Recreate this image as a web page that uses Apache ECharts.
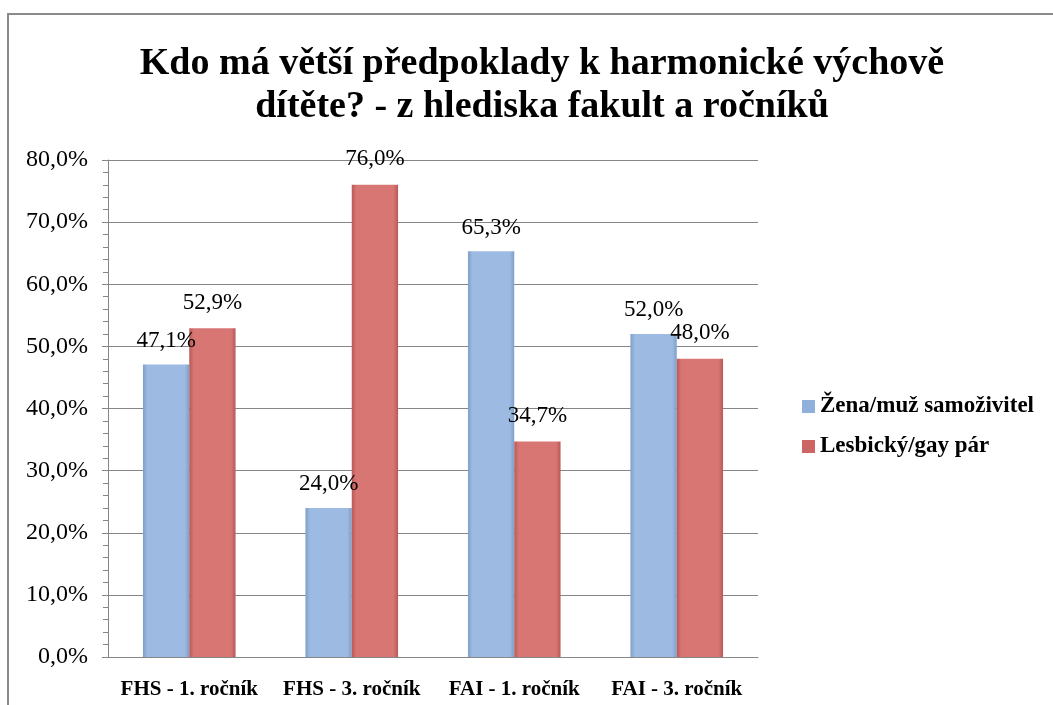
<!DOCTYPE html>
<html>
<head>
<meta charset="utf-8">
<script src="https://cdn.jsdelivr.net/npm/echarts@6/dist/echarts.min.js"></script>
<style>
html,body{margin:0;padding:0;background:#fff;}
#chart{width:1053px;height:705px;}
#frame{position:absolute;left:7px;top:13px;width:1100px;height:800px;border-left:2px solid #8a8a8a;border-top:2px solid #8a8a8a;pointer-events:none;}
</style>
</head>
<body>
<div id="chart"></div>
<div id="frame"></div>
<script>
// kategorie a hodnoty (%)
var categories = ['FHS - 1. ročník','FHS - 3. ročník','FAI - 1. ročník','FAI - 3. ročník'];
var seriesNames = ['Žena/muž samoživitel','Lesbický/gay pár'];
var zenaMuz = [47.1, 24.0, 65.3, 52.0];
var lesbGay = [52.9, 76.0, 34.7, 48.0];

var font = '"Liberation Serif","Times New Roman",serif';

function grad(edge, mid){
    return new echarts.graphic.LinearGradient(0,0,1,0,[
        {offset:0,color:edge},{offset:0.1,color:mid},{offset:0.9,color:mid},{offset:1,color:edge}
    ]);
}
function fmt(p){
    return p.value.toFixed(1).replace('.',',') + '%';
}

var chart = echarts.init(document.getElementById('chart'));
var option = {
    backgroundColor:'#fff',
    animation:false,
    title:{
        text:'Kdo má větší předpoklady k harmonické výchově\ndítěte? - z hlediska fakult a ročníků',
        left:537,
        textAlign:'center',
        top:38,
        textStyle:{fontFamily:font,fontSize:38,fontWeight:'bold',color:'#000',lineHeight:43}
    },
    legend:{
        orient:'vertical',
        left:797,
        top:390,
        itemWidth:13,
        itemHeight:13,
        itemGap:17,
        icon:'rect',
        textStyle:{fontFamily:font,fontSize:23,fontWeight:'bold',color:'#000'},
        data:[
            {name:seriesNames[0],itemStyle:{color:'#8fb0db'}},
            {name:seriesNames[1],itemStyle:{color:'#cc6664'}}
        ]
    },
    grid:{left:108,right:295,top:160,bottom:48},
    xAxis:{
        type:'category',
        data:categories,
        axisLine:{lineStyle:{color:'#868686'}},
        axisTick:{show:false},
        axisLabel:{interval:0,hideOverlap:false,fontFamily:font,fontSize:21,fontWeight:'bold',color:'#000',margin:22}
    },
    yAxis:{
        type:'value',
        min:0,max:80,interval:10,
        axisLine:{show:true,lineStyle:{color:'#868686'}},
        axisTick:{show:true,length:6,lineStyle:{color:'#868686'}},
        minorTick:{show:true,splitNumber:5,length:5,lineStyle:{color:'#868686'}},
        splitLine:{lineStyle:{color:'#868686'}},
        axisLabel:{fontFamily:font,fontSize:24,color:'#000',margin:20,
            formatter:function(v){return v.toFixed(1).replace('.',',')+'%';}}
    },
    series:[
        {
            name:seriesNames[0],type:'bar',data:zenaMuz,
            barGap:'0%',barCategoryGap:'43%',
            itemStyle:{color:grad('#7f9fc9','#9dbbe2')},
            label:{show:true,position:'top',distance:12,formatter:fmt,fontFamily:font,fontSize:23,color:'#000'}
        },
        {
            name:seriesNames[1],type:'bar',data:lesbGay,
            itemStyle:{color:grad('#b85a58','#d87674')},
            label:{show:true,position:'top',distance:14,formatter:fmt,fontFamily:font,fontSize:23,color:'#000'}
        }
    ]
};
chart.setOption(option);
</script>
</body>
</html>
